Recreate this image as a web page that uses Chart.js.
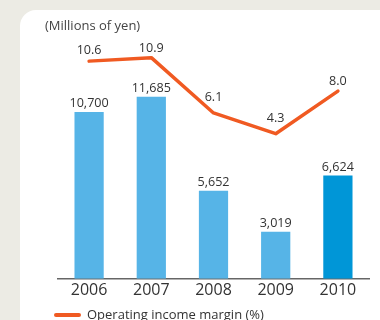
<!DOCTYPE html>
<html>
<head>
<meta charset="utf-8">
<script src="https://cdn.jsdelivr.net/npm/chart.js@4/dist/chart.umd.min.js"></script>
<style>
  html, body { margin: 0; padding: 0; }
  body { width: 380px; height: 320px; overflow: hidden; background: #ecebe4; position: relative; font-family: "Open Sans", sans-serif; }
  #panel { position: absolute; left: 20px; top: 10px; width: 400px; height: 340px; background: #fff; border-radius: 16px; }
  #chart { position: absolute; left: 0; top: 0; }
  #unit { position: absolute; left: 45px; top: 16px; font-size: 13px; color: #444; }
  #legend { position: absolute; left: 54px; top: 305px; font-size: 13px; color: #333; white-space: nowrap; }
  #legend span.key { display: inline-block; width: 27px; height: 4px; border-radius: 2px; background: #f05a22; vertical-align: middle; margin-right: 6px; position: relative; top: -1px; }
</style>
</head>
<body>
<div id="panel"></div>
<canvas id="chart" width="380" height="320"></canvas>
<div id="unit">(Millions of yen)</div>
<div id="legend"><span class="key"></span>Operating income margin (%)</div>
<script>
// values
var years = ['2006', '2007', '2008', '2009', '2010'];
var operatingIncome = [10700, 11685, 5652, 3019, 6624];   // millions of yen (bars)
var incomeMargin = [10.6, 10.9, 6.1, 4.3, 8.0];           // % (line)

var barLight = '#56b4e7';
var barDark = '#0096d7';
var lineColor = '#f05a22';

var barColors = years.map(function (y, i) { return i === years.length - 1 ? barDark : barLight; });

// number labels over the bars and the line points
const valueLabels = {
  id: 'valueLabels',
  afterDatasetsDraw(chart) {
    const ctx = chart.ctx;
    ctx.save();
    ctx.fillStyle = '#333';
    ctx.textAlign = 'center';
    ctx.textBaseline = 'alphabetic';
    ctx.font = '12.6px "Open Sans"';

    chart.getDatasetMeta(0).data.forEach(function (bar, i) {
      ctx.fillText(operatingIncome[i].toLocaleString('en-US'), bar.x, bar.y - 5);
    });

    chart.getDatasetMeta(1).data.forEach(function (pt, i) {
      var lift = 7;
      if (i > 0) lift = incomeMargin[i] < incomeMargin[i - 1] ? 12 : 6;
      ctx.fillText(incomeMargin[i].toFixed(1), pt.x, pt.y - lift);
    });
    ctx.restore();
  }
};

var ctxMain = document.getElementById('chart').getContext('2d');
var chartMain = new Chart(ctxMain, {
  data: {
    labels: years,
    datasets: [{
      type: 'bar',
      data: operatingIncome,
      backgroundColor: barColors,
      borderWidth: 0,
      barPercentage: 0.47,
      categoryPercentage: 1.0,
      yAxisID: 'y',
      order: 2
    }, {
      type: 'line',
      data: incomeMargin,
      borderColor: lineColor,
      borderWidth: 3.5,
      borderCapStyle: 'round',
      borderJoinStyle: 'round',
      pointRadius: 0,
      tension: 0,
      yAxisID: 'y2',
      order: 1
    }]
  },
  options: {
    responsive: false,
    animation: false,
    layout: { padding: { left: 58, right: 11, top: 45, bottom: 18 } },
    plugins: {
      legend: { display: false },
      tooltip: { enabled: false }
    },
    scales: {
      x: {
        grid: { display: false, drawTicks: false },
        border: { display: true, color: '#666', width: 1.5 },
        ticks: { color: '#333', font: { family: 'Open Sans', size: 16 }, padding: 2 }
      },
      y: { display: false, min: 0, max: 15000 },
      y2: { display: false, min: -8.3, max: 12 }
    }
  },
  plugins: [valueLabels]
});
</script>
</body>
</html>
